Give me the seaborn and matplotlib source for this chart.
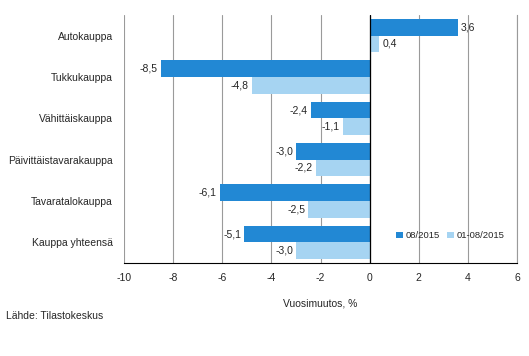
import matplotlib
matplotlib.use("Agg")
import matplotlib.pyplot as plt
import seaborn as sns
import pandas as pd

categories = ["Autokauppa", "Tukkukauppa", "Vähittäiskauppa", "Päivittäistavarakauppa",
              "Tavaratalokauppa", "Kauppa yhteensä"]
series_names = ["08/2015", "01-08/2015"]
values_month = [3.6, -8.5, -2.4, -3.0, -6.1, -5.1]
values_ytd = [0.4, -4.8, -1.1, -2.2, -2.5, -3.0]
xticks = [-10, -8, -6, -4, -2, 0, 2, 4, 6]
colors = ["#2288d4", "#a6d4f2"]

rows = []
for c, a, b in zip(categories, values_month, values_ytd):
    rows.append({"cat": c, "series": series_names[0], "val": a})
    rows.append({"cat": c, "series": series_names[1], "val": b})
df = pd.DataFrame(rows)

sns.set_style("white")
plt.rcParams["font.family"] = ["Liberation Sans", "DejaVu Sans"]
fig = plt.figure(figsize=(5.29, 3.56), dpi=100)
ax = fig.add_axes([124/529, 1-263/356, (517-124)/529, (263-15)/356])

sns.barplot(data=df, y="cat", x="val", hue="series", order=categories,
            hue_order=series_names, palette=colors, width=0.8, ax=ax,
            orient="h", saturation=1, edgecolor="none", linewidth=0)

ax.set_xlim(-10, 6)
ax.set_xticks(xticks)
ax.set_xticklabels([f"{t}" for t in xticks], fontsize=7.5)
ax.tick_params(axis="y", length=0, labelsize=7.5, pad=8)
ax.tick_params(axis="x", length=4, direction="out", width=0.8, color="black", pad=3)
ax.set_ylabel("")
ax.set_xlabel("Vuosimuutos, %", fontsize=7.5, labelpad=11)
ax.xaxis.grid(True, color="#9a9a9a", linewidth=0.8)
ax.set_axisbelow(True)
for s in ["top", "left"]:
    ax.spines[s].set_visible(False)
ax.spines["right"].set_color("#9a9a9a")
ax.spines["right"].set_linewidth(0.8)
ax.spines["bottom"].set_color("black")
ax.spines["bottom"].set_linewidth(0.8)
ax.axvline(0, color="black", linewidth=0.9, zorder=3)

for container in ax.containers:
    for bar in container:
        w = bar.get_width()
        y = bar.get_y() + bar.get_height() / 2
        txt = f"{w:.1f}".replace(".", ",")
        if w >= 0:
            ax.text(w + 0.12, y, txt, ha="left", va="center", fontsize=7.5)
        else:
            ax.text(w - 0.12, y, txt, ha="right", va="center", fontsize=7.5)

leg = ax.legend(loc="lower right", bbox_to_anchor=(0.985, 0.065), frameon=False,
                fontsize=6.8, ncol=2, handlelength=0.7, handleheight=0.7,
                handletextpad=0.3, columnspacing=0.8, borderaxespad=0.3)

fig.text(6/529, 1-316/356, "Lähde: Tilastokeskus", fontsize=7.5, va="center")

fig.savefig("out.png", dpi=100)
